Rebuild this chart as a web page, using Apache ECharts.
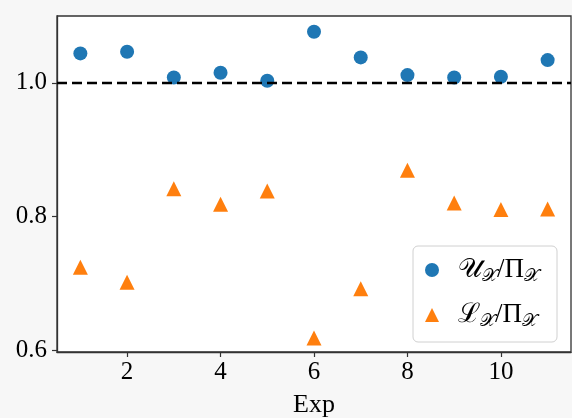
<!DOCTYPE html>
<html>
<head>
<meta charset="utf-8">
<script src="https://cdn.jsdelivr.net/npm/echarts@6/dist/echarts.min.js"></script>
<style>
html,body{margin:0;padding:0;background:#f7f7f7;}
#chart{width:572px;height:418px;}
</style>
</head>
<body>
<div id="chart"></div>
<script>
// Data
const expIds = [1, 2, 3, 4, 5, 6, 7, 8, 9, 10, 11];
const upperRatio = [1.044, 1.0465, 1.008, 1.015, 1.003, 1.0765, 1.038, 1.0115, 1.008, 1.009, 1.034];
const lowerRatio = [0.724, 0.7015, 0.8415, 0.818, 0.838, 0.618, 0.6916, 0.869, 0.820, 0.8105, 0.811];
const xTicks = [2, 4, 6, 8, 10];
const yTicks = [0.6, 0.8, 1.0];
const referenceLine = 1.0;
const upperName = 'U';
const lowerName = 'L';

const serif = '"Liberation Serif", "DejaVu Serif", serif';
const chart = echarts.init(document.getElementById('chart'), null, {renderer: 'canvas'});

const pairs = (xs, ys) => xs.map((x, i) => [x, ys[i]]);

chart.setOption({
  animation: false,
  backgroundColor: '#f7f7f7',
  grid: {
    left: 57, right: 1, top: 16, bottom: 66,
    outerBoundsMode: 'none', containLabel: false,
    show: true, backgroundColor: '#ffffff',
    borderColor: '#333333', borderWidth: 1.3
  },
  xAxis: {
    type: 'value', min: 0.5, max: 11.5,
    name: 'Exp', nameLocation: 'middle', nameGap: 40,
    nameTextStyle: {fontFamily: serif, fontSize: 26, color: '#000'},
    axisLine: {show: true, onZero: false, lineStyle: {color: '#333333', width: 1.3}},
    axisTick: {show: true, length: 5, customValues: xTicks, lineStyle: {color: '#333333', width: 1.2}},
    axisLabel: {customValues: xTicks, margin: 8, fontFamily: serif, fontSize: 25, color: '#000'},
    splitLine: {show: false}
  },
  yAxis: {
    type: 'value', min: 0.597, max: 1.1,
    axisLine: {show: true, onZero: false, lineStyle: {color: '#333333', width: 1.3}},
    axisTick: {show: true, length: 5, customValues: yTicks, lineStyle: {color: '#333333', width: 1.2}},
    axisLabel: {customValues: yTicks, margin: 10, fontFamily: serif, fontSize: 25, color: '#000',
      formatter: v => v.toFixed(1)},
    splitLine: {show: false}
  },
  legend: {
    orient: 'vertical', left: 413, top: 246,
    padding: [9, 18, 12, 12],
    itemWidth: 14, itemHeight: 14, itemGap: 15,
    backgroundColor: 'rgba(255,255,255,0.8)',
    borderColor: '#d0d0d0', borderWidth: 1, borderRadius: 5,
    data: [{name: upperName, icon: 'circle'}, {name: lowerName, icon: 'triangle'}],
    formatter: name => name === upperName
      ? '{m|𝒰}{s|𝒳}{m|/Π}{s|𝒳}'
      : '{m|ℒ}{s|𝒳}{m|/Π}{s|𝒳}',
    textStyle: {
      padding: [0, 0, 0, 14],
      rich: {
        m: {fontFamily: serif, fontSize: 27, color: '#000', lineHeight: 32},
        s: {fontFamily: serif, fontSize: 18, color: '#000', padding: [12, 0, 0, 0], lineHeight: 32}
      }
    }
  },
  series: [
    {
      name: upperName, type: 'scatter', symbol: 'circle', symbolSize: 14,
      itemStyle: {color: '#1f77b4', opacity: 1},
      data: pairs(expIds, upperRatio),
      markLine: {
        silent: true, symbol: 'none', z: 10,
        label: {show: false},
        lineStyle: {color: '#000', width: 2.4, type: [10, 5]},
        data: [{yAxis: referenceLine}]
      }
    },
    {
      name: lowerName, type: 'scatter', symbol: 'triangle', symbolSize: 15,
      itemStyle: {color: '#ff7f0e', opacity: 1},
      data: pairs(expIds, lowerRatio)
    }
  ]
});
</script>
</body>
</html>
